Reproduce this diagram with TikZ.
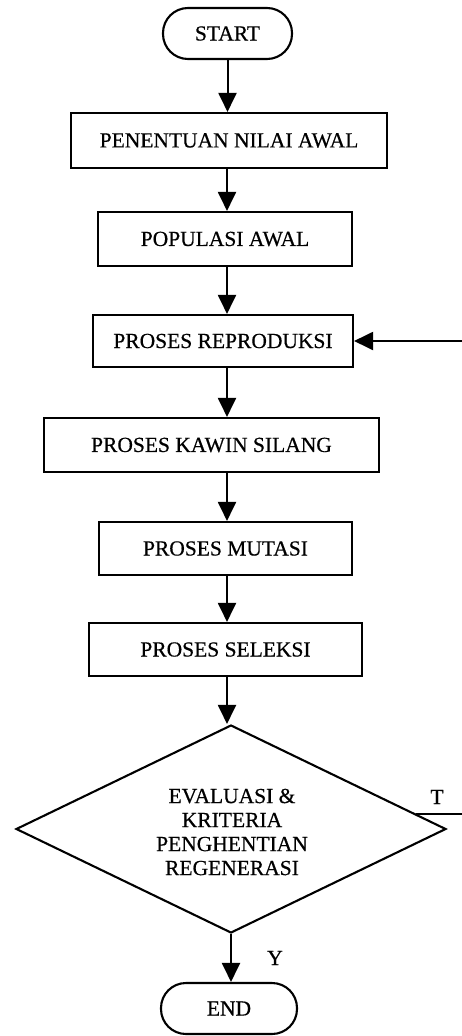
\documentclass[tikz,border=0pt]{standalone}
\usepackage{fontspec}
\setmainfont{Liberation Serif}[FakeBold=0.5]
\usetikzlibrary{arrows.meta,shapes.geometric,calc}

\tikzset{
  base/.style={draw=black, line width=2.1pt, font=\fontsize{21.5}{24}\selectfont, inner sep=0pt, align=center},
  procbox/.style={base, rectangle},
  termbox/.style={base, rectangle, rounded corners=25pt, minimum width=#1, minimum height=51pt},
  decbox/.style={base, diamond, minimum width=430pt, minimum height=208pt},
  flow/.style={line width=2pt, -{Triangle[length=19pt,width=18pt]}},
  lbl/.style={font=\fontsize{21.5}{24}\selectfont, inner sep=0pt}
}

\begin{document}
\begin{tikzpicture}[x=1pt, y=-1pt]
  \useasboundingbox (0,0) rectangle (462,1036);
  \clip (0,0) rectangle (462,1036);
  \fill[white] (0,0) rectangle (462,1036);

  % column along which the straight arrows run
  \coordinate (axis) at (227,0);

  % terminals, process steps and the decision
  \node[termbox=129pt] (start) at (227.5,33.5) {START};
  \node[procbox, minimum width=316pt, minimum height=55pt] (pen) at (229,140.5) {PENENTUAN NILAI AWAL};
  \node[procbox, minimum width=254pt, minimum height=54pt] (pop) at (225,239) {POPULASI AWAL};
  \node[procbox, minimum width=260pt, minimum height=52pt] (rep) at (223,341) {PROSES REPRODUKSI};
  \node[procbox, minimum width=335pt, minimum height=54pt] (kaw) at (211.5,445) {PROSES KAWIN SILANG};
  \node[procbox, minimum width=253pt, minimum height=53pt] (mut) at (225.5,548.5) {PROSES MUTASI};
  \node[procbox, minimum width=273pt, minimum height=53pt] (sel) at (225.5,649.5) {PROSES SELEKSI};
  \node[decbox] (dec) at (231,829) {};
  \node[lbl, align=center] (dectext) at (232,832) {EVALUASI \&\\KRITERIA\\PENGHENTIAN\\REGENERASI};
  \node[termbox=136pt] (end) at (229,1008.5) {END};

  % main flow
  \draw[flow] (start.south) -- (start.south |- pen.north);
  \draw[flow] (pen.south -| axis) -- (pop.north -| axis);
  \draw[flow] (pop.south -| axis) -- (rep.north -| axis);
  \draw[flow] (rep.south -| axis) -- (kaw.north -| axis);
  \draw[flow] (kaw.south -| axis) -- (mut.north -| axis);
  \draw[flow] (mut.south -| axis) -- (sel.north -| axis);
  \draw[flow] (sel.south -| axis) -- (dec.north -| axis);
  \draw[flow] (dec.south) -- (dec.south |- end.north);
  \node[lbl] (ylabel) at (275,958) {Y};

  % loop back to reproduction when the criteria are not met
  \coordinate (tout) at ($(dec.north)!0.856!(dec.east)$);
  \draw[flow] (tout) -- ++(70,0) |- (rep.east);
  \node[lbl] (tlabel) at (437,797) {T};
\end{tikzpicture}
\end{document}
